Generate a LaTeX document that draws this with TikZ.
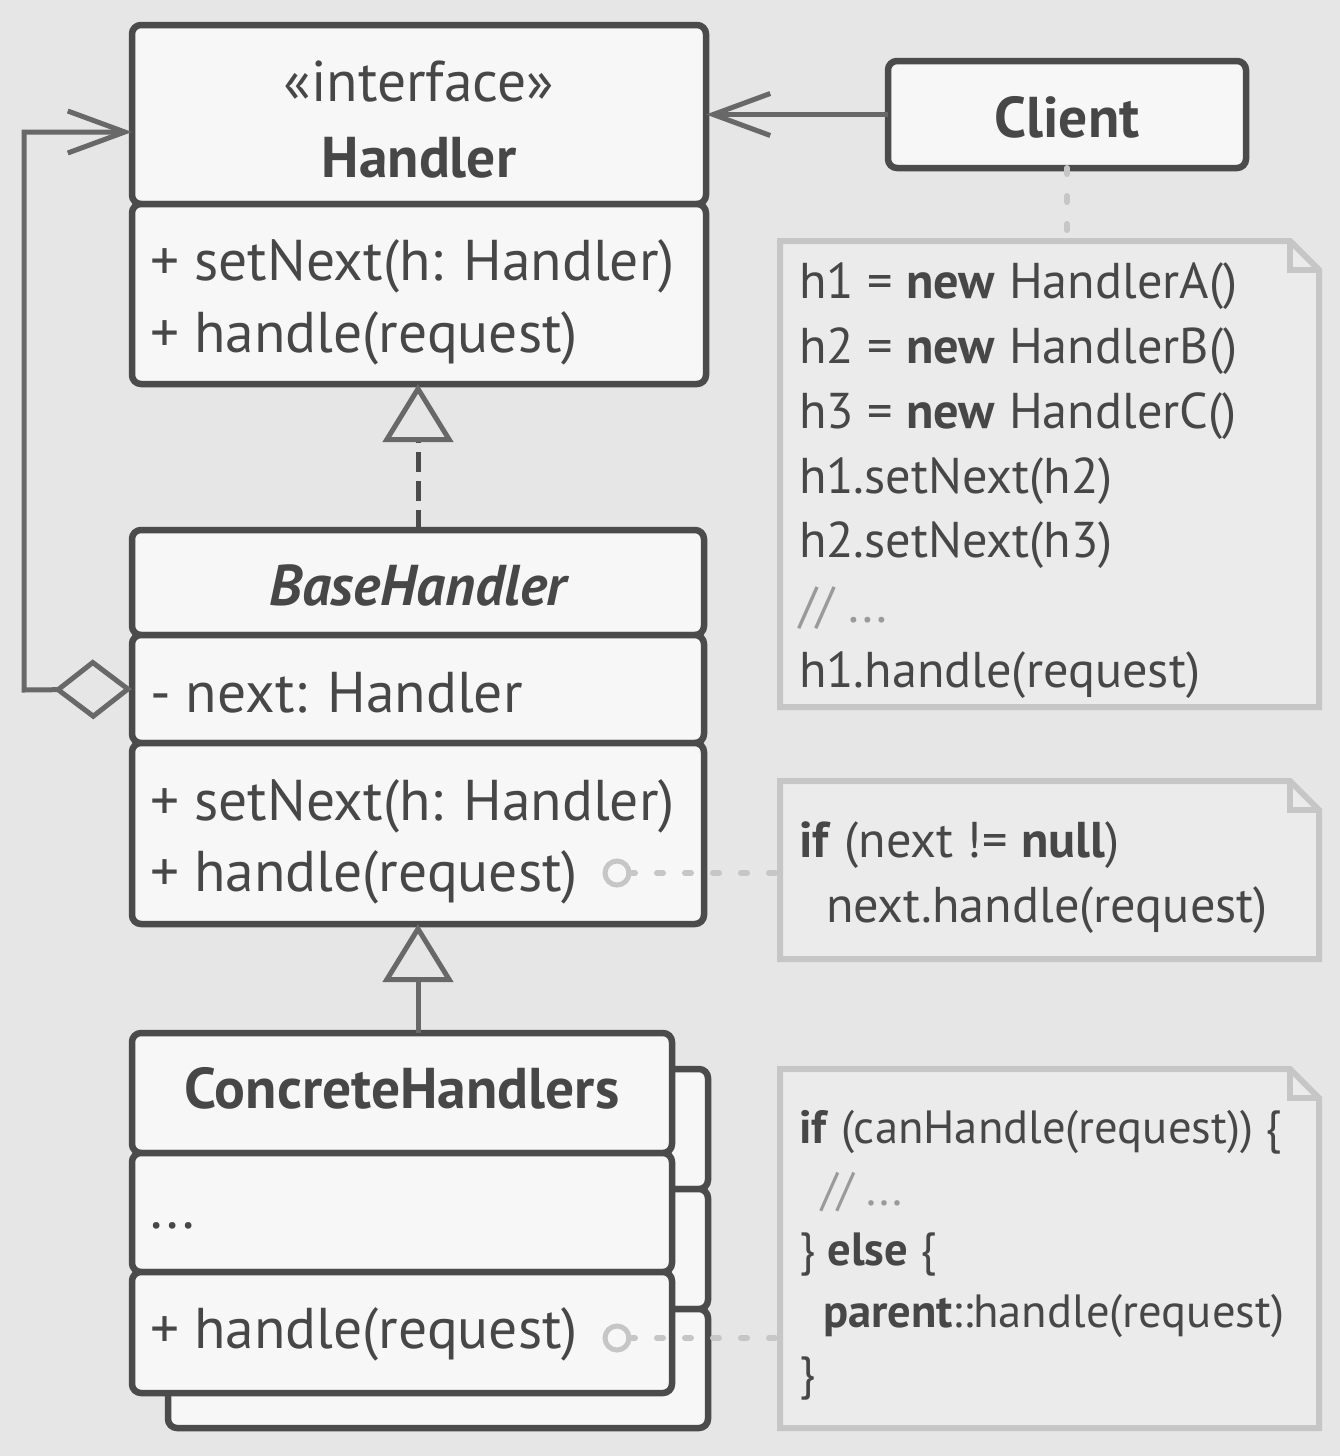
\documentclass[tikz,border=0pt]{standalone}
\usepackage{fontspec}
\setmainfont{PT Sans}
\usetikzlibrary{arrows.meta}
\definecolor{bg}{HTML}{E6E6E6}
\definecolor{boxfill}{HTML}{F7F7F7}
\definecolor{edge}{HTML}{4B4B4B}
\definecolor{ink}{HTML}{474747}
\definecolor{conn}{HTML}{686868}
\definecolor{notefill}{HTML}{EBEBEB}
\definecolor{noteedge}{HTML}{C6C6C6}
\definecolor{cmt}{HTML}{9A9A9A}
\tikzset{
  cbox/.style={draw=edge, fill=boxfill, line width=6.5pt, rounded corners=9pt, inner sep=0pt, outer sep=0pt, anchor=north west},
  notearea/.style={inner sep=0pt, outer sep=0pt, anchor=north west},
  notestyle/.style={draw=noteedge, line width=6pt, line join=miter},
  cls/.style={text=ink, font=\fontsize{57.5}{69}\selectfont, inner sep=0pt, outer sep=0pt},
  clsb/.style={cls, font=\fontsize{57.5}{69}\selectfont\bfseries},
  ntxt/.style={text=ink, font=\fontsize{50.3}{60}\selectfont, inner sep=0pt, outer sep=0pt, anchor=base west},
  ntxts/.style={ntxt, font=\fontsize{46.6}{56}\selectfont},
  barbline/.style={draw=conn, line width=5pt},
  notelink/.style={draw=noteedge, line width=6pt, line cap=round, dash pattern=on 6pt off 22pt},
  opencirc/.style={circle, draw=noteedge, line width=5pt, minimum size=24pt, inner sep=0pt, outer sep=0pt, fill=boxfill},
}
\begin{document}
\begin{tikzpicture}[x=1pt,y=-1pt]
\useasboundingbox (0,0) rectangle (1340,1456);
\fill[bg] (0,0) rectangle (1340,1456);

% Handler
\node[cbox, minimum width=574pt, minimum height=179pt] (hTop) at (132,25) {};
\node[cbox, minimum width=574pt, minimum height=180pt] (hBot) at (132,204) {};
\node[cls, anchor=base] (hSt) at (419,101) {«interface»};
\node[clsb, anchor=base] (hName) at (419,177) {Handler};
\node[cls, anchor=base west] (hM1) at (150,280) {+ setNext(h: Handler)};
\node[cls, anchor=base west] (hM2) at (150,352) {+ handle(request)};

% Client
\node[cbox, minimum width=358pt, minimum height=107pt] (client) at (888,61) {};
\node[clsb, anchor=base] (clientT) at (1067,137) {Client};

% BaseHandler
\node[cbox, minimum width=572pt, minimum height=105pt] (bTop) at (132,530) {};
\node[cbox, minimum width=572pt, minimum height=108pt] (bMid) at (132,635) {};
\node[cbox, minimum width=572pt, minimum height=181pt] (bBot) at (132,743) {};
\node[cls, anchor=base, font=\fontsize{57.5}{69}\selectfont\bfseries\itshape] (bName) at (418,605) {BaseHandler};
\node[cls, anchor=base west] (bF) at (150,712) {- next: Handler};
\node[cls, anchor=base west] (bM1) at (150,820) {+ setNext(h: Handler)};
\node[cls, anchor=base west] (bM2) at (150,891) {+ handle(request)};

% ConcreteHandlers (back copy)
\node[cbox, minimum width=540pt, minimum height=120pt] (kTop) at (168,1069) {};
\node[cbox, minimum width=540pt, minimum height=120pt] (kMid) at (168,1189) {};
\node[cbox, minimum width=540pt, minimum height=119pt] (kBot) at (168,1309) {};
% ConcreteHandlers (front)
\node[cbox, minimum width=540pt, minimum height=120pt] (cTop) at (132,1033) {};
\node[cbox, minimum width=540pt, minimum height=119pt] (cMid) at (132,1153) {};
\node[cbox, minimum width=540pt, minimum height=121pt] (cBot) at (132,1272) {};
\node[clsb, anchor=base] (cName) at (402,1108) {ConcreteHandlers};
\node[cls, anchor=base west] (cF) at (150,1228) {...};
\node[cls, anchor=base west] (cM) at (150,1348) {+ handle(request)};

% Notes
\node[notearea, minimum width=539pt, minimum height=466pt] (n1) at (780,241) {};
\node[notearea, minimum width=539pt, minimum height=178pt] (n2) at (780,781) {};
\node[notearea, minimum width=539pt, minimum height=359pt] (n3) at (780,1069) {};
\foreach \n in {n1,n2,n3} {
  \draw[notestyle, fill=notefill] (\n.north west) -- ([xshift=-29pt]\n.north east) -- ([yshift=-29pt]\n.north east) -- (\n.south east) -- (\n.south west) -- cycle;
  \draw[notestyle] ([xshift=-29pt]\n.north east) |- ([yshift=-29pt]\n.north east);
}
\node[ntxt] (t11) at (799,298) {h1 = \textbf{new} HandlerA()};
\node[ntxt] (t12) at (799,363) {h2 = \textbf{new} HandlerB()};
\node[ntxt] (t13) at (799,428) {h3 = \textbf{new} HandlerC()};
\node[ntxt] (t14) at (799,493) {h1.setNext(h2)};
\node[ntxt] (t15) at (799,557) {h2.setNext(h3)};
\node[ntxt, text=cmt] (t16) at (799,622) {// ...};
\node[ntxt] (t17) at (799,687) {h1.handle(request)};

\node[ntxt] (t21) at (799,857) {\textbf{if} (next != \textbf{null})};
\node[ntxt] (t22) at (826,922) {next.handle(request)};

\node[ntxts] (t31) at (799,1143) {\textbf{if} (canHandle(request)) \{};
\node[ntxts, text=cmt] (t32) at (821,1205) {// ...};
\node[ntxts] (t33) at (799,1265) {\} \textbf{else} \{};
\node[ntxts] (t34) at (823,1327) {\textbf{parent}::handle(request)};
\node[ntxts] (t35) at (799,1389) {\}};

% Connectors
\draw[barbline, -{Straight Barb[length=57pt, width=42pt]}] (client.west) -- (hTop.east |- client.west);

\coordinate (aggL) at (24,690);
\coordinate (aggT) at (24,132);
\coordinate (hIn) at (132,132);
\draw[barbline, {Diamond[open, length=78pt, width=60pt]}-{Straight Barb[length=57pt, width=42pt]}] (bMid.west) -- (aggL) -- (aggT) -- (hIn);

\draw[draw=edge, line width=5pt, dash pattern=on 20pt off 9pt, -{Triangle[open, length=58pt, width=70pt, color=conn]}] (bTop.north) -- (bTop.north |- hBot.south);
\draw[draw=conn, line width=5pt, -{Triangle[open, length=58pt, width=70pt]}] (bBot.south |- cTop.north) -- (bBot.south);

\draw[notelink] (client.south) -- (client.south |- n1.north);
\node[opencirc] (o1) at (617,873) {};
\node[opencirc] (o2) at (617,1338) {};
\draw[notelink] (o1.east) -- (o1.east -| n2.west);
\draw[notelink] (o2.east) -- (o2.east -| n3.west);
\end{tikzpicture}
\end{document}
